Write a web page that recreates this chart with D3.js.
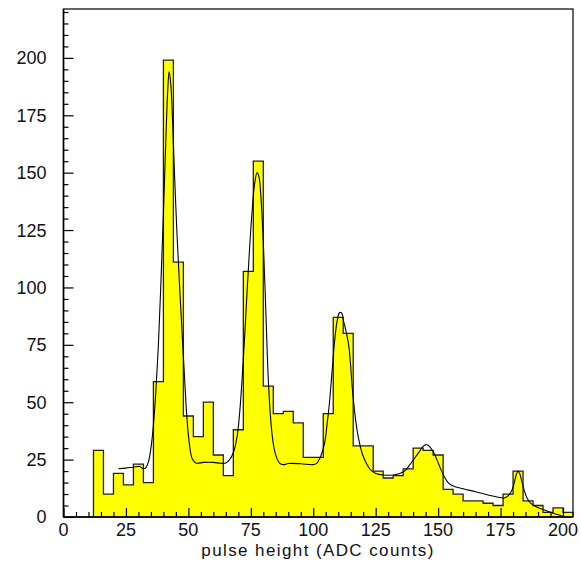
<!DOCTYPE html>
<html>
<head>
<meta charset="utf-8">
<script src="https://cdn.jsdelivr.net/npm/d3@7"></script>
<style>
  html, body { margin: 0; padding: 0; background: #fff; }
  svg text { font-family: "Liberation Sans", Arial, sans-serif; fill: #111; }
</style>
</head>
<body>
<svg id="chart"></svg>
<script>

// histogram: lower bin edges (width 4) and counts
const binWidth = 4;
const binLow = [12, 16, 20, 24, 28, 32, 36, 40, 44, 48, 52, 56, 60, 64, 68, 72,
                76, 80, 84, 88, 92, 96, 100, 104, 108, 112, 116, 120, 124, 128, 132, 136,
                140, 144, 148, 152, 156, 160, 164, 168, 172, 176, 180, 184, 188, 192, 196, 200];
const counts = [29, 10, 19, 14, 23, 15, 59, 199, 111, 44, 35, 50, 27, 18, 38, 107,
                155, 57, 45, 46, 41, 26, 26, 45, 87, 80, 31, 31, 20, 17, 18, 21,
                30, 29, 27, 12, 10, 7, 7, 6, 5, 10, 20, 7, 5, 2, 4, 2];

// fitted curve
const fitX = [22, 25, 28, 30.5, 32, 33, 34, 35, 36, 37, 38, 39, 40, 41, 41.7, 42.3, 43, 43.7, 44.5, 45.5,
              46.5, 47.5, 48.5, 49.5, 50.5, 51.5, 53, 56, 60, 63, 65, 66.5, 68, 69.5, 70.5, 71.5,
              72.5, 73.5, 74.5, 75.5, 76.5, 77.5, 78.3, 79, 80, 81, 82, 83, 84, 85, 86.5, 88,
              90, 95, 100, 101.5, 103, 104.5, 105.5, 106.5, 107.5, 108.5, 109.5, 110.5, 111.3, 112.2,
              113.3, 114.3, 115.8, 117, 118, 119.5, 121, 123, 125, 128, 131, 134, 136.5, 138.5,
              140.5, 142.5, 144, 145.3, 146.5, 148, 149.5, 151, 152.5, 154, 156, 160, 165, 170,
              174, 176.5, 178, 179.5, 180.5, 181.3, 182, 182.7, 183.5, 184.5, 185.5, 187, 189, 192,
              195, 198, 200.5];
const fitY = [21, 21.3, 21.7, 22, 21, 21.5, 24, 30, 40, 55, 75, 102, 132, 165, 185, 194, 188, 172, 148, 122,
              100, 80, 60, 42, 31, 25.5, 23.5, 23.8, 23.8, 23.4, 23.5, 25, 28, 35, 45, 60,
              78, 98, 117, 133, 145, 150, 148, 140, 120, 90, 60, 42, 32, 27, 23.5, 22.8,
              23.3, 23.2, 22.8, 23.5, 26.5, 32, 40, 50, 63, 76, 85, 89, 89, 85,
              80, 74, 54, 42, 35, 28, 24, 20.5, 19, 18.3, 18.2, 18.7, 20, 22.5,
              25.5, 28.5, 30.8, 31.6, 30.8, 28.5, 25, 21, 17.5, 15, 13.5, 12.3, 11, 9.6,
              8.6, 8.3, 9.2, 11.5, 15, 18.5, 20, 18.8, 15.5, 11.5, 8.5, 6, 4.6, 3.3,
              2.1, 1.0, 0.2];

const xLabels = [0, 25, 50, 75, 100, 125, 150, 175, 200];
const yLabels = [0, 25, 50, 75, 100, 125, 150, 175, 200];
const xTitle = "pulse height (ADC counts)";

const width = 581;
const height = 561;
const margin = {top: 9, right: 8, bottom: 44, left: 63.5};

const svg = d3.select("#chart")
    .attr("width", width)
    .attr("height", height);

const x = d3.scaleLinear()
    .domain([0, 204])
    .range([margin.left, width - margin.right]);

const y = d3.scaleLinear()
    .domain([0, 221.3])
    .range([height - margin.bottom, margin.top]);

const bins = binLow.map((b, i) => ({x0: b, x1: b + binWidth, n: counts[i]}));

// step outline of the histogram
const stepPts = [[bins[0].x0, 0]];
bins.forEach(d => {
    stepPts.push([d.x0, d.n]);
    stepPts.push([d.x1, d.n]);
});
stepPts.push([bins[bins.length - 1].x1, 0]);

const line = d3.line()
    .x(d => x(d[0]))
    .y(d => y(d[1]));

svg.append("path")
    .attr("d", line(stepPts) + "Z")
    .attr("fill", "#ffff00")
    .attr("stroke", "none");

svg.append("path")
    .attr("d", line(stepPts))
    .attr("fill", "none")
    .attr("stroke", "#222")
    .attr("stroke-width", 1.3);

// fit curve
const fitPts = fitX.map((v, i) => [v, fitY[i]]);
svg.append("path")
    .attr("d", d3.line()
        .x(d => x(d[0]))
        .y(d => y(d[1]))
        .curve(d3.curveCatmullRom.alpha(0.5))(fitPts))
    .attr("fill", "none")
    .attr("stroke", "#000")
    .attr("stroke-width", 1.1);

// frame
svg.append("rect")
    .attr("x", margin.left)
    .attr("y", margin.top)
    .attr("width", width - margin.right - margin.left)
    .attr("height", height - margin.bottom - margin.top)
    .attr("fill", "none")
    .attr("stroke", "#000")
    .attr("stroke-width", 1.2);

// axes: ticks point into the plot
const xAxis = svg.append("g")
    .attr("transform", `translate(0,${y(0)})`);

xAxis.call(d3.axisTop(x)
        .tickValues(d3.range(0, 205, 5))
        .tickSize(5)
        .tickFormat(""))
    .call(g => g.select(".domain").remove());

xAxis.call(g => g.selectAll(".tick line")
    .filter(d => d % 25 === 0)
    .attr("y2", -9));

xAxis.selectAll(".tick line").attr("stroke-width", 1.2);

svg.append("g")
    .selectAll("text")
    .data(xLabels)
    .join("text")
        .attr("x", d => x(d))
        .attr("y", y(0) + 18.5)
        .attr("text-anchor", "middle")
        .attr("font-size", 18)
        .text(d => d);

const yAxis = svg.append("g")
    .attr("transform", `translate(${x(0)},0)`);

yAxis.call(d3.axisRight(y)
        .tickValues(d3.range(0, 221, 5))
        .tickSize(5)
        .tickFormat(""))
    .call(g => g.select(".domain").remove());

yAxis.call(g => g.selectAll(".tick line")
    .filter(d => d % 25 === 0)
    .attr("x2", 10));

yAxis.selectAll(".tick line").attr("stroke-width", 1.2);

svg.append("g")
    .selectAll("text")
    .data(yLabels)
    .join("text")
        .attr("x", x(0) - 17)
        .attr("y", d => y(d))
        .attr("dy", "0.36em")
        .attr("text-anchor", "end")
        .attr("font-size", 18)
        .text(d => d);

svg.append("text")
    .attr("x", 318)
    .attr("y", 556)
    .attr("text-anchor", "middle")
    .attr("font-size", 17)
    .attr("letter-spacing", 1.4)
    .text(xTitle);

// heavier left and bottom axis lines
svg.append("line")
    .attr("x1", x(0)).attr("x2", x(0))
    .attr("y1", margin.top).attr("y2", y(0))
    .attr("stroke", "#000").attr("stroke-width", 1.6);

svg.append("line")
    .attr("x1", x(0)).attr("x2", width - margin.right)
    .attr("y1", y(0)).attr("y2", y(0))
    .attr("stroke", "#000").attr("stroke-width", 1.6);

</script>
</body>
</html>
